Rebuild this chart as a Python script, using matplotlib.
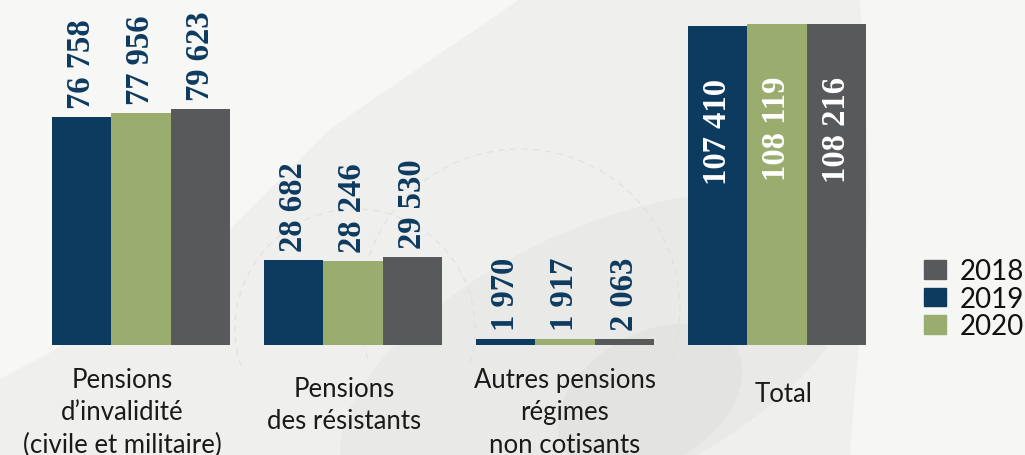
import matplotlib.pyplot as plt
import numpy as np
from matplotlib.patches import Ellipse, Polygon
from matplotlib.transforms import blended_transform_factory

# categories and values (bars drawn in the order: blue, green, grey)
categories = ['Pensions\nd\u2019invalidit\u00e9\n(civile et militaire)',
              'Pensions\ndes r\u00e9sistants',
              'Autres pensions\nr\u00e9gimes\nnon cotisants',
              'Total']
vals_blue = [76758, 28682, 1970, 107410]
vals_green = [77956, 28246, 1917, 108119]
vals_grey = [79623, 29530, 2063, 108216]

legend_labels = ['2018', '2019', '2020']

c_blue = '#0d3a5f'
c_green = '#9aad6e'
c_grey = '#58595b'


def fmt(v):
    # French style thousands separator
    return '{:,}'.format(v).replace(',', ' ')


fig = plt.figure(figsize=(10.25, 4.56), dpi=100)
fig.patch.set_facecolor('#efefed')

# soft background shapes
bg = fig.add_axes([0, 0, 1, 1])
bg.set_xlim(0, 1025)
bg.set_ylim(456, 0)
bg.axis('off')
bg.add_patch(Polygon([[0, 0], [520, 0], [330, 130], [170, 290], [0, 380]],
                     closed=True, color='#f7f7f5', lw=0))
bg.add_patch(Polygon([[860, 0], [1025, 0], [1025, 456], [850, 456], [870, 200]],
                     closed=True, color='#f6f6f4', lw=0))
bg.add_patch(Ellipse((600, 360), 560, 260, angle=-25, color='#e7e7e5', lw=0, alpha=0.7))
bg.add_patch(Ellipse((650, 400), 200, 130, angle=-30, color='#dfdfdd', lw=0, alpha=0.5))
for cx, cy, r in [(355, 330, 120), (520, 310, 160)]:
    t = np.linspace(np.pi * 0.9, np.pi * 2.1, 200)
    bg.plot(cx + r * np.cos(t), cy + r * np.sin(t), ls=(0, (6, 6)),
            color='#dcdee0', lw=0.7)

ax = fig.add_axes([0, 1 - 346 / 456, 1, 346 / 456])
ax.patch.set_alpha(0)
x = np.arange(len(categories))
w = 0.28
ax.set_xlim(-0.665, 4.17)
ax.set_ylim(0, 116500)

bars_b = ax.bar(x - w, vals_blue, w, color=c_blue)
bars_g = ax.bar(x, vals_green, w, color=c_green)
bars_r = ax.bar(x + w, vals_grey, w, color=c_grey)

lab_font = dict(family='Liberation Serif', fontsize=23.5, fontweight='bold')
for bars, vals in [(bars_b, vals_blue), (bars_g, vals_green), (bars_r, vals_grey)]:
    for i, (b, v) in enumerate(zip(bars, vals)):
        cx = b.get_x() + b.get_width() / 2
        if i == len(vals) - 1:
            ax.annotate(fmt(v), (cx, v), xytext=(0, -52), textcoords='offset pixels',
                        rotation=90, ha='center', va='top', color='white', **lab_font)
        else:
            ax.annotate(fmt(v), (cx, v), xytext=(0, 9), textcoords='offset pixels',
                        rotation=90, ha='center', va='bottom', color=c_blue, **lab_font)

for s in ax.spines.values():
    s.set_visible(False)
ax.set_xticks([])
ax.set_yticks([])

# category labels under the groups
tr = blended_transform_factory(ax.transData, fig.transFigure)
cat_pos = [(-0.09, 0.194, 'top'), (-0.04, 0.174, 'top'), (0.0, 0.194, 'top'), (0.03, 0.134, 'center')]
for i, (lab, (dx, fy, va)) in enumerate(zip(categories, cat_pos)):
    ax.text(x[i] + dx, fy, lab, transform=tr, ha='center', va=va, ma='center',
            family='Lato', fontsize=18.5, color='#1a1a1a', linespacing=1.38)

# legend
handles = [plt.Rectangle((0, 0), 1, 1, color=c) for c in [c_grey, c_blue, c_green]]
leg = fig.legend(handles, legend_labels, loc='upper left', bbox_to_anchor=(0.888, 0.462),
                 frameon=False, prop=dict(family='Lato', size=20),
                 handlelength=0.8, handleheight=0.65, handletextpad=0.5,
                 labelspacing=0.05, borderpad=0)
for t in leg.get_texts():
    t.set_color('#111111')

fig.savefig('out.png', dpi=100, facecolor=fig.get_facecolor())
